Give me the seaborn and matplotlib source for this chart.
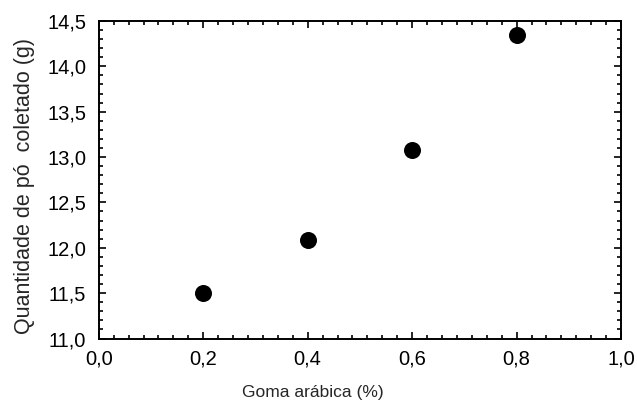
import matplotlib
matplotlib.use("Agg")
import matplotlib.pyplot as plt
from matplotlib.ticker import MultipleLocator, AutoMinorLocator, FuncFormatter
import seaborn as sns
import pandas as pd

# Data
goma = [0.2, 0.4, 0.6, 0.8]
quantidade = [11.50, 12.09, 13.08, 14.35]

df = pd.DataFrame({"goma": goma, "quantidade": quantidade})

sns.set_theme(style="ticks")
plt.rcParams['font.family'] = ['Liberation Sans', 'DejaVu Sans']

fig, ax = plt.subplots(figsize=(6.37, 4.03), dpi=100)
fig.subplots_adjust(left=0.155, right=0.975, top=0.948, bottom=0.16)

sns.scatterplot(data=df, x="goma", y="quantidade", ax=ax, color="black",
                s=150, edgecolor="black", linewidth=0, legend=False)

ax.set_xlim(0, 1.0)
ax.set_ylim(11.0, 14.5)
ax.xaxis.set_major_locator(MultipleLocator(0.2))
ax.xaxis.set_minor_locator(AutoMinorLocator(7))
ax.yaxis.set_major_locator(MultipleLocator(0.5))
ax.yaxis.set_minor_locator(AutoMinorLocator(5))

comma = FuncFormatter(lambda v, p: f"{v:.1f}".replace(".", ","))
ax.xaxis.set_major_formatter(comma)
ax.yaxis.set_major_formatter(comma)

ax.tick_params(which="both", direction="in", top=True, right=True,
               colors="black", width=1.2)
ax.tick_params(which="major", length=5, labelsize=14.5)
ax.tick_params(axis="x", which="major", pad=8)
ax.tick_params(axis="y", which="major", pad=9)
ax.tick_params(which="minor", length=3)

for sp in ax.spines.values():
    sp.set_linewidth(1.4)
    sp.set_color("black")

ax.set_xlabel("Goma arábica (%)", fontsize=12.5, labelpad=12, x=0.41)
ax.set_ylabel("Quantidade de pó  coletado (g)", fontsize=15.5, labelpad=9, y=0.48)

fig.savefig("out.png", dpi=100)
